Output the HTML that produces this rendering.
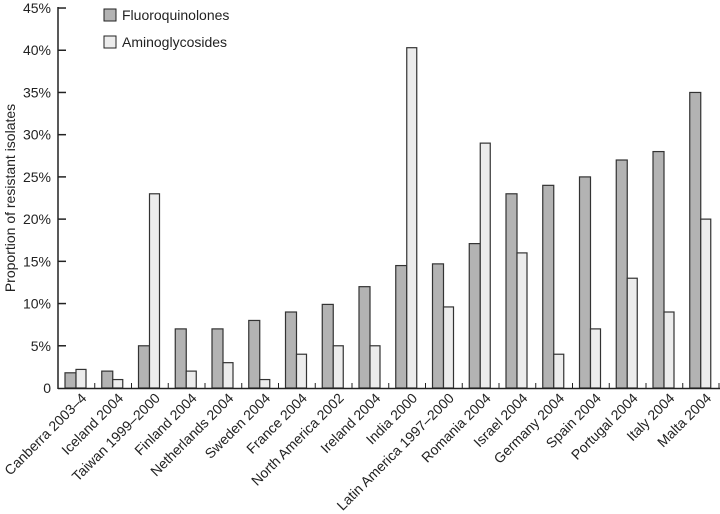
<!DOCTYPE html>
<html><head><meta charset="utf-8"><style>
html,body{margin:0;padding:0;background:#fff;}
svg{display:block;font-family:"Liberation Sans",sans-serif;}
</style></head><body>
<svg width="720" height="514" viewBox="0 0 720 514" xmlns="http://www.w3.org/2000/svg">
<g id="bars"></g>
<g stroke="#222" stroke-width="1.5" fill="none">
<line x1="58" y1="7" x2="58" y2="389"/>
<line x1="58" y1="388.5" x2="720" y2="388.5"/>
</g>
<g id="yt" font-size="14" fill="#222" text-anchor="end"></g>
<text transform="translate(15,198) rotate(-90)" font-size="14" text-anchor="middle" fill="#222">Proportion of resistant isolates</text>
<rect x="104" y="9" width="12" height="12" fill="#b3b3b3" stroke="#222"/>
<text x="122" y="20" font-size="14" fill="#222">Fluoroquinolones</text>
<rect x="104" y="36" width="12" height="12" fill="#ececec" stroke="#222"/>
<text x="122" y="47" font-size="14" fill="#222">Aminoglycosides</text>
<g id="xl" font-size="14" fill="#222" text-anchor="end"></g>
<script>
var d=[["Canberra 2003–4",1.8,2.2],["Iceland 2004",2,1],["Taiwan 1999–2000",5,23],["Finland 2004",7,2],["Netherlands 2004",7,3],["Sweden 2004",8,1],["France 2004",9,4],["North America 2002",9.9,5],["Ireland 2004",12,5],["India 2000",14.5,40.3],["Latin America 1997–2000",14.7,9.6],["Romania 2004",17.1,29],["Israel 2004",23,16],["Germany 2004",24,4],["Spain 2004",25,7],["Portugal 2004",27,13],["Italy 2004",28,9],["Malta 2004",35,20]];
var ns="http://www.w3.org/2000/svg",P=36.75,Y0=388,S=8.444;
function el(t,a,p){var e=document.createElementNS(ns,t);for(var k in a)e.setAttribute(k,a[k]);p.appendChild(e);return e;}
var b=document.getElementById("bars"),xl=document.getElementById("xl"),yt=document.getElementById("yt");
d.forEach(function(r,i){var x=58+i*P;
el("rect",{x:x+7,y:Y0-r[1]*S,width:11,height:r[1]*S,fill:"#b3b3b3",stroke:"#333","stroke-width":1.2},b);
el("rect",{x:x+18,y:Y0-r[2]*S,width:10,height:r[2]*S,fill:"#ececec",stroke:"#333","stroke-width":1.2},b);
if(i>0)el("line",{x1:x,y1:Y0,x2:x,y2:Y0-5,stroke:"#222","stroke-width":1},b);
var cx=x+P/2+11;var t=el("text",{transform:"translate("+cx+",399) rotate(-45)"},xl);t.textContent=r[0];});
el("line",{x1:719,y1:Y0,x2:719,y2:Y0-5,stroke:"#222","stroke-width":1},b);
for(var v=0;v<=45;v+=5){var y=Y0-v*S;var t=el("text",{x:51,y:y+5},yt);t.textContent=v==0?"0":v+"%";
if(v>0)el("line",{x1:58,y1:y,x2:66,y2:y,stroke:"#222","stroke-width":1.5},b);}
</script>
</svg>
</body></html>
